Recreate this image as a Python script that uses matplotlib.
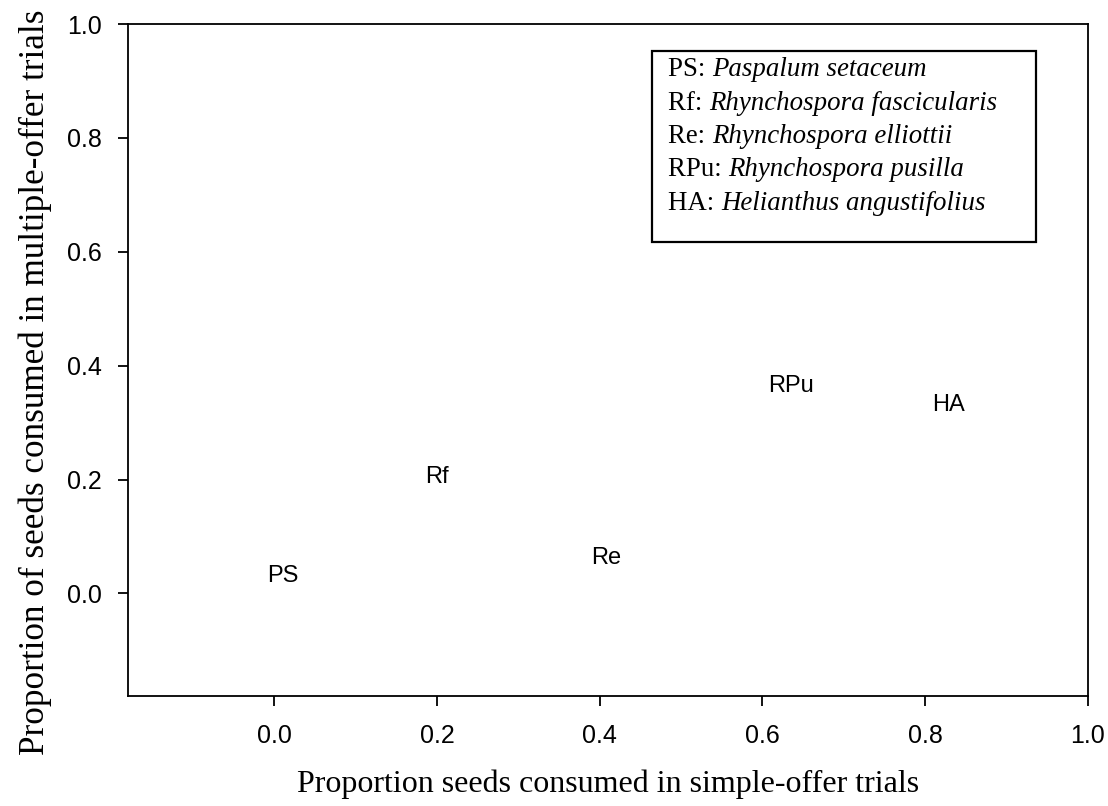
import matplotlib
matplotlib.use("Agg")
import matplotlib.pyplot as plt
from matplotlib.patches import Rectangle

# species codes and where each code is placed
codes = ["PS", "Rf", "Re", "RPu", "HA"]
simple_offer = [0.011, 0.200, 0.408, 0.635, 0.829]
multiple_offer = [0.030, 0.205, 0.062, 0.365, 0.331]

legend_codes = ["PS", "Rf", "Re", "RPu", "HA"]
legend_names = ["Paspalum setaceum", "Rhynchospora fascicularis",
                "Rhynchospora elliottii", "Rhynchospora pusilla",
                "Helianthus angustifolius"]

ticks = [0.0, 0.2, 0.4, 0.6, 0.8, 1.0]

sans = "Liberation Sans"
serif = "Liberation Serif"

fig = plt.figure(figsize=(11.08, 8.06), dpi=100)
ax = fig.add_axes([0.1153, 0.1365, 0.8664, 0.8337])

for code, x, y in zip(codes, simple_offer, multiple_offer):
    ax.text(x, y, code, ha="center", va="center", fontsize=17, family=sans)

ax.set_xlim(-0.18, 1.0)
ax.set_ylim(-0.18, 1.0)
ax.set_xticks(ticks)
ax.set_yticks(ticks)
ax.set_xticklabels([f"{t:.1f}" for t in ticks], family=sans, fontsize=18)
ax.set_yticklabels([f"{t:.1f}" for t in ticks], family=sans, fontsize=18)
ax.tick_params(direction="out", length=7.5, width=1.3)
ax.tick_params(axis="x", pad=13)
ax.tick_params(axis="y", pad=11)
for s in ax.spines.values():
    s.set_linewidth(1.3)

ax.set_xlabel("Proportion seeds consumed in simple-offer trials",
              family=serif, fontsize=23, labelpad=15.5)
ax.set_ylabel("Proportion of seeds consumed in multiple-offer trials",
              family=serif, fontsize=25.3)
# the y title sits a little below the middle of the axis
ax.yaxis.set_label_coords(-0.079, 0.467)

# species key box, in figure pixels
W, H = 1108, 806
fig.patches.append(Rectangle((652 / W, 1 - 242 / H), 384 / W, 191 / H,
                             transform=fig.transFigure, fill=False,
                             edgecolor="black", linewidth=1.6))
for i, (c, n) in enumerate(zip(legend_codes, legend_names)):
    y = 1 - (70 + i * 33.25) / H
    t = fig.text(668 / W, y, c + ": ", family=serif, fontsize=19.4, va="center")
    ax.annotate(n, xy=(1, 0.5), xycoords=t, va="center", ha="left",
                family=serif, fontsize=19.4, style="italic",
                annotation_clip=False)

fig.savefig("out.png", dpi=100)
